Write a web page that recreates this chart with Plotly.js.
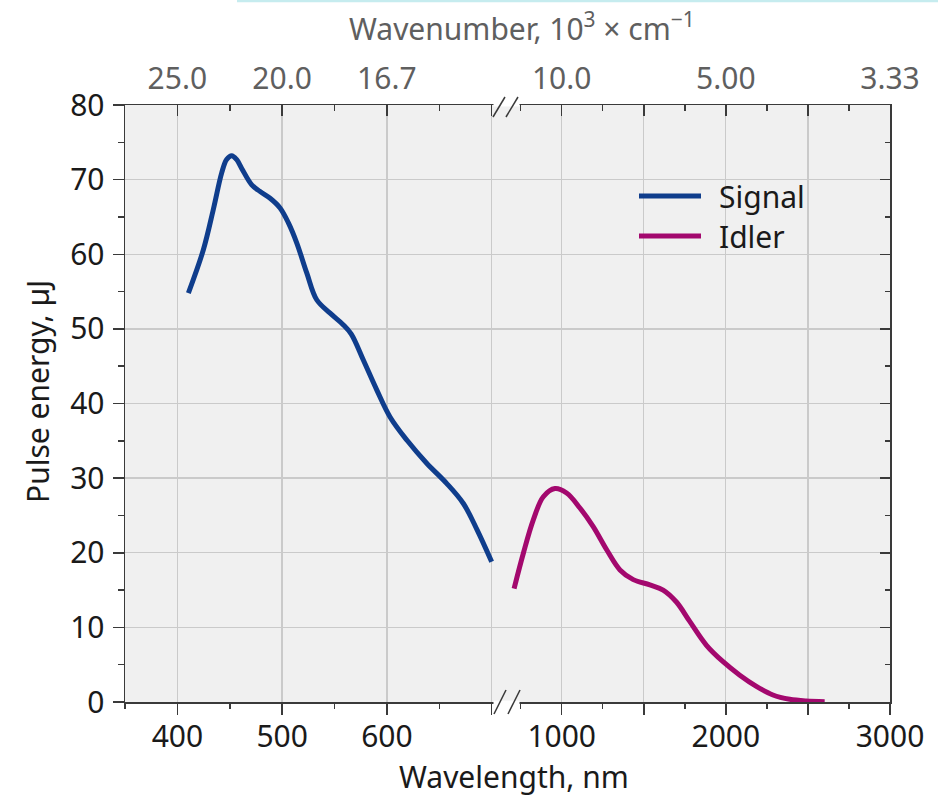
<!DOCTYPE html>
<html>
<head>
<meta charset="utf-8">
<script src="https://cdn.plot.ly/plotly-3.0.1.min.js"></script>
<style>
  html, body { margin: 0; padding: 0; background: #ffffff; }
  #chart { width: 938px; height: 797px; }
</style>
</head>
<body>
<div id="chart"></div>
<script>
// ---- Data ---------------------------------------------------------------
const seriesNames = ['Signal', 'Idler'];

// Signal branch: wavelength (nm) and pulse energy (µJ)
const signalWavelength = [410.5, 424.8, 434.3, 442.3, 447, 451.9, 456.5, 461.4, 471, 479, 488.5, 498,
  506, 514, 523.5, 533, 545.8, 558, 566, 577.6, 590.4, 603, 619, 638, 657, 673, 686, 700];
const signalEnergy = [54.8, 60.6, 66.0, 70.9, 72.7, 73.2, 72.7, 71.5, 69.3, 68.4, 67.5, 66.2,
  64.2, 61.5, 57.5, 53.9, 52.1, 50.6, 49.3, 45.8, 41.8, 38.2, 35.1, 32.0, 29.3, 26.6, 23.1, 18.8];

// Idler branch: wavelength (nm) and pulse energy (µJ)
const idlerWavelength = [710, 766, 827, 888, 959, 1030, 1111, 1192, 1274, 1355, 1436, 1537, 1618,
  1699, 1780, 1882, 1983, 2085, 2186, 2287, 2389, 2490, 2602];
const idlerEnergy = [15.2, 19.9, 24.4, 27.5, 28.6, 28.0, 26.0, 23.5, 20.4, 17.7, 16.4, 15.7, 15.0,
  13.4, 10.8, 7.6, 5.4, 3.6, 2.1, 0.94, 0.36, 0.13, 0.05];

// Wavelength ticks on both sides of the axis break
const leftTickVals = [400, 500, 600, 700];
const leftTickText = ['400', '500', '600', ''];
const leftMinorVals = [350, 450, 550, 650];
const rightTickVals = [1000, 1500, 2000, 2500, 3000];
const rightTickText = ['1000', '', '2000', '', '3000'];
const rightMinorVals = [750, 1250, 1750, 2250, 2750];

// Wavenumber labels (10^3 cm^-1) for the top axis at the same wavelengths
const leftWavenumberText = ['25.0', '20.0', '16.7', ''];
const rightWavenumberText = ['10.0', '', '5.00', '', '3.33'];

// ---- Styling ------------------------------------------------------------
const FONT = '"Noto Sans", "Open Sans", sans-serif';
const INK = '#1a1a1a';
const GREY_TEXT = '#5f5f5f';
const AXIS = '#3a3a3a';
const GRID = '#cacaca';
const COLORS = ['#0f3d8c', '#a3086e'];

// plot frame in pixels
const W = 938, H = 797;
const M = { l: 125, r: 48, t: 105, b: 95 };
const plotW = W - M.l - M.r, plotH = H - M.t - M.b;
const px = x => (x - M.l) / plotW;            // page x -> paper x
const py = y => (H - M.b - y) / plotH;        // page y -> paper y

const split = px(506);                         // where the two wavelength segments meet
const leftRange = [350, 713.7];
const rightRange = [660.7, 3000];

const traces = [
  {
    name: seriesNames[0], x: signalWavelength, y: signalEnergy,
    xaxis: 'x', yaxis: 'y', type: 'scatter', mode: 'lines',
    line: { color: COLORS[0], width: 5, shape: 'spline', smoothing: 1 },
    hoverinfo: 'x+y'
  },
  {
    name: seriesNames[1], x: idlerWavelength, y: idlerEnergy,
    xaxis: 'x2', yaxis: 'y', type: 'scatter', mode: 'lines',
    line: { color: COLORS[1], width: 5, shape: 'spline', smoothing: 1 },
    hoverinfo: 'x+y'
  },
  // carriers so the frame axes (top wavenumber scale, right energy axis) get drawn
  { x: signalWavelength, y: signalEnergy, xaxis: 'x3', yaxis: 'y', type: 'scatter',
    mode: 'none', hoverinfo: 'skip', showlegend: false },
  { x: idlerWavelength, y: idlerEnergy, xaxis: 'x4', yaxis: 'y', type: 'scatter',
    mode: 'none', hoverinfo: 'skip', showlegend: false },
  { x: idlerWavelength, y: idlerEnergy, xaxis: 'x2', yaxis: 'y2', type: 'scatter',
    mode: 'none', hoverinfo: 'skip', showlegend: false }
];

const baseX = {
  showline: true, linecolor: AXIS, linewidth: 1.5,
  zeroline: false, fixedrange: true,
  tickcolor: AXIS, tickwidth: 1.5,
  tickfont: { family: FONT, size: 30, color: INK }
};

function bottomAxis(domain, range, vals, text, minorVals) {
  return Object.assign({}, baseX, {
    domain, range, anchor: 'y', side: 'bottom',
    tickmode: 'array', tickvals: vals, ticktext: text,
    ticks: 'outside', ticklen: 11,
    showgrid: true, gridcolor: GRID, gridwidth: 1.3,
    minor: { tickmode: 'array', tickvals: minorVals, ticks: 'outside', ticklen: 5,
             tickcolor: AXIS, tickwidth: 1.5, showgrid: false },
    ticklabelstandoff: -4
  });
}

function topAxis(over, range, vals, text, minorVals) {
  return Object.assign({}, baseX, {
    overlaying: over, anchor: 'y', side: 'top', range,
    tickmode: 'array', tickvals: vals, ticktext: text,
    ticks: 'inside', ticklen: 11,
    showgrid: false,
    tickfont: { family: FONT, size: 30, color: GREY_TEXT },
    minor: { tickmode: 'array', tickvals: minorVals, ticks: 'inside', ticklen: 6,
             tickcolor: AXIS, tickwidth: 1.5, showgrid: false },
    ticklabelstandoff: 3
  });
}

const shapes = [];
const annotations = [];

// gaps in the frame at the break, with the // marks
[[702, 690, 714], [104, 97, 117]].forEach(([yLine, yTop, yBot]) => {
  shapes.push({ type: 'rect', xref: 'paper', yref: 'paper', layer: 'above',
    x0: px(493.5), x1: px(519.5), y0: py(yLine + 2.5), y1: py(yLine - 1.5),
    fillcolor: '#ffffff', line: { width: 0 } });
});
[[494, 714, 506, 690], [508, 714, 520, 690], [493, 117, 505, 97], [506, 117, 518, 97]]
  .forEach(([x0, y0, x1, y1]) => {
    shapes.push({ type: 'line', xref: 'paper', yref: 'paper', layer: 'above',
      x0: px(x0), y0: py(y0), x1: px(x1), y1: py(y1),
      line: { color: AXIS, width: 1.5 } });
  });

// thin cyan rule across the top of the page
shapes.push({ type: 'line', xref: 'paper', yref: 'paper', layer: 'above',
  x0: px(237), x1: px(940), y0: py(1), y1: py(1),
  line: { color: '#c6ecef', width: 2.5 } });

// legend: line samples and labels
[196, 236].forEach((yPix, i) => {
  shapes.push({ type: 'line', xref: 'paper', yref: 'paper', layer: 'above',
    x0: px(639), x1: px(701), y0: py(yPix), y1: py(yPix),
    line: { color: COLORS[i], width: 5 } });
  annotations.push({ xref: 'paper', yref: 'paper', x: px(717), y: py(yPix + 1),
    xanchor: 'left', yanchor: 'middle', showarrow: false, text: seriesNames[i],
    font: { family: FONT, size: 30, color: INK } });
});

// axis titles
annotations.push({ xref: 'paper', yref: 'paper', x: px(522), y: py(27),
  xanchor: 'center', yanchor: 'middle', showarrow: false,
  text: 'Wavenumber, 10<sup>3</sup> × cm<sup>−1</sup>',
  font: { family: FONT, size: 30, color: GREY_TEXT } });
annotations.push({ xref: 'paper', yref: 'paper', x: px(514), y: py(776),
  xanchor: 'center', yanchor: 'middle', showarrow: false,
  text: 'Wavelength, nm',
  font: { family: FONT, size: 30, color: INK } });
annotations.push({ xref: 'paper', yref: 'paper', x: px(37), y: py(392),
  xanchor: 'center', yanchor: 'middle', showarrow: false, textangle: -90,
  text: 'Pulse energy, µJ',
  font: { family: FONT, size: 30, color: INK } });

const layout = {
  width: W, height: H,
  margin: M,
  paper_bgcolor: '#ffffff',
  plot_bgcolor: '#f0f0f0',
  showlegend: false,
  font: { family: FONT, size: 30, color: INK },
  xaxis: bottomAxis([0, split], leftRange, leftTickVals, leftTickText, leftMinorVals),
  xaxis2: bottomAxis([split, 1], rightRange, rightTickVals, rightTickText, rightMinorVals),
  xaxis3: topAxis('x', leftRange, leftTickVals, leftWavenumberText, leftMinorVals),
  xaxis4: topAxis('x2', rightRange, rightTickVals, rightWavenumberText, rightMinorVals),
  yaxis: {
    domain: [0, 1], range: [0, 80], anchor: 'x', side: 'left',
    tickmode: 'linear', tick0: 0, dtick: 10,
    ticks: 'outside', ticklen: 11, tickcolor: AXIS, tickwidth: 1.5,
    showline: true, linecolor: AXIS, linewidth: 1.5,
    showgrid: true, gridcolor: GRID, gridwidth: 1.3, zeroline: false, fixedrange: true,
    minor: { tickmode: 'linear', tick0: 0, dtick: 5, ticks: 'outside', ticklen: 6,
             tickcolor: AXIS, tickwidth: 1.5, showgrid: false },
    tickfont: { family: FONT, size: 30, color: INK },
    ticklabelstandoff: 2
  },
  yaxis2: {
    overlaying: 'y', anchor: 'x2', side: 'right', range: [0, 80],
    tickmode: 'linear', tick0: 0, dtick: 10,
    ticks: 'inside', ticklen: 10, tickcolor: AXIS, tickwidth: 1.5,
    showline: true, linecolor: AXIS, linewidth: 1.5,
    showgrid: false, zeroline: false, showticklabels: false, fixedrange: true,
    minor: { tickmode: 'linear', tick0: 0, dtick: 5, ticks: 'inside', ticklen: 5,
             tickcolor: AXIS, tickwidth: 1.5, showgrid: false }
  },
  shapes, annotations
};

Plotly.newPlot('chart', traces, layout, { displayModeBar: false, staticPlot: true });
</script>
</body>
</html>
